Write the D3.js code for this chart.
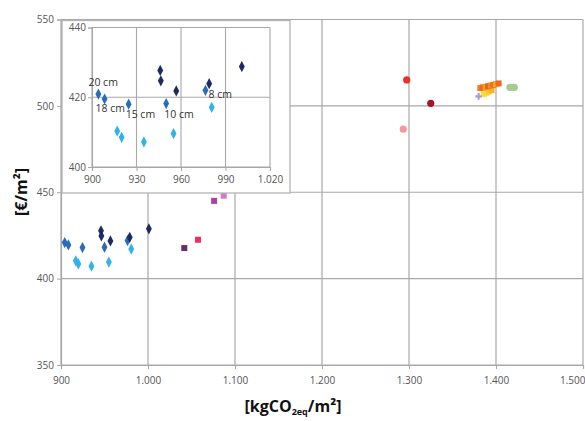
<!DOCTYPE html>
<html><head><meta charset="utf-8">
<script src="https://cdn.jsdelivr.net/npm/d3@7"></script>
<style>body{margin:0;background:#fff}svg{display:block}text{font-family:"Open Sans","Liberation Sans",sans-serif}</style>
</head><body><svg id="c" width="585" height="421"></svg>
<script>
// ---- data ----
const xTicks = [900,1000,1100,1200,1300,1400,1500];
const yTicks = [350,400,450,500,550];
const insetXTicks = [900,930,960,990,1020];
const insetYTicks = [400,420,440];
const seriesDark = [[946,427.7],[946.4,424.7],[956.8,421.8],[979,423.9],[1001,428.8]];
const seriesMid = [[904.3,420.9],[908.5,419.5],[924.7,418],[950,418.2],[976.5,422]];
const seriesLight = [[917,410.3],[920,408.5],[935,407.2],[955,409.6],[980.7,417.1]];
const midLabels = ["20 cm","18 cm","15 cm","10 cm","8 cm"];
const squaresMain = [[1041.7,417.7],[1057.5,422.5],[1076,445],[1087,448]];
const circlesMain = [[1297.4,515],[1325,501.5],[1293.4,486.5],[1416,510.7],[1421,510.7]];
const orangeSq = [[1382,510.3],[1385,510.7],[1388,511],[1391,511.4],[1394,511.8],[1397,512.2],[1400,512.6],[1403,513]];
const yellowSq = [[1386,506.8],[1389,507.6],[1392,508.4],[1395,509.2]];
const plusPts = [[1380,505.5]];

const fmtX = d => d>=1000 ? (Math.floor(d/1000)+"."+String(d%1000).padStart(3,"0")) : String(d);

const svg = d3.select("#c");
const grid = "#a8a8a8";
// ---- main chart ----
const x = d3.scaleLinear().domain([900,1500]).range([61,583]);
const y = d3.scaleLinear().domain([350,550]).range([365,19.5]);

const gGrid = svg.append("g");
gGrid.selectAll(".vx").data(xTicks).join("line")
  .attr("x1",d=>x(d)).attr("x2",d=>x(d)).attr("y1",y(350)).attr("y2",y(550))
  .attr("stroke",grid).attr("stroke-width",1.2);
gGrid.selectAll(".hy").data(yTicks).join("line")
  .attr("y1",d=>y(d)).attr("y2",d=>y(d)).attr("x1",x(900)).attr("x2",x(1500))
  .attr("stroke",grid).attr("stroke-width",1.2);

const xAxis = svg.append("g").attr("transform",`translate(0,${y(350)})`)
  .call(d3.axisBottom(x).tickValues(xTicks).tickFormat(fmtX).tickSize(4).tickPadding(8));
const yAxis = svg.append("g").attr("transform",`translate(${x(900)},0)`)
  .call(d3.axisLeft(y).tickValues(yTicks).tickSize(4).tickPadding(3));
[xAxis,yAxis].forEach(a=>{
  a.select(".domain").attr("stroke",grid).attr("stroke-width",1.2);
  a.selectAll(".tick line").attr("stroke",grid);
  a.selectAll(".tick text").attr("fill","#555").style("font-size","10px");
});
xAxis.selectAll(".tick text").filter(d=>d===1500).attr("text-anchor","end").attr("dx","2");

const cDark="#1c2a66", cMid="#2b6cb8", cLight="#32b2ea";
function diamonds(g, data, sx, sy, color, size){
  g.selectAll(null).data(data).join("path")
    .attr("d", d3.symbol(d3.symbolDiamond, size))
    .attr("transform", d=>`translate(${sx(d[0])},${sy(d[1])}) scale(1,1.1)`)
    .attr("fill", color);
}
const gm = svg.append("g");
diamonds(gm, seriesLight, x, y, cLight, 30);
diamonds(gm, seriesMid, x, y, cMid, 30);
diamonds(gm, seriesDark, x, y, cDark, 30);

const sqColors = ["#6e2a6e","#e8325c","#a8439e","#d27ac6"];
gm.selectAll(".sq").data(squaresMain).join("rect")
  .attr("x",d=>x(d[0])-3).attr("y",d=>y(d[1])-3).attr("width",6).attr("height",6)
  .attr("fill",(d,i)=>sqColors[i]);

const ocol = ["#f07b20","#ee6a1a","#f39a2a","#e9601c","#f08a24","#ef7020","#f5a52e","#ec6a1e"];
gm.selectAll(".yo").data(yellowSq).join("rect")
  .attr("x",d=>x(d[0])-3).attr("y",d=>y(d[1])-3).attr("width",6).attr("height",6)
  .attr("fill",(d,i)=>["#f6e23a","#f9d93a","#f8cc34","#f7b52e"][i]);
gm.selectAll(".or").data(orangeSq).join("rect")
  .attr("x",d=>x(d[0])-3).attr("y",d=>y(d[1])-3).attr("width",6).attr("height",6)
  .attr("fill",(d,i)=>ocol[i]);
gm.selectAll(".pl").data(plusPts).join("path")
  .attr("d", d3.symbol(d3.symbolCross, 24))
  .attr("transform", d=>`translate(${x(d[0])},${y(d[1])})`)
  .attr("fill","#a89ad8");
const cirCol = ["#e8302e","#a8142a","#f29a9a","#a5cc8e","#a5cc8e"];
gm.selectAll(".ci").data(circlesMain).join("circle")
  .attr("cx",d=>x(d[0])).attr("cy",d=>y(d[1])).attr("r",3.6)
  .attr("fill",(d,i)=>cirCol[i]);

// axis titles
svg.append("text").attr("x",293).attr("y",412).attr("text-anchor","middle")
  .style("font-size","16px").style("font-weight","bold").attr("fill","#111")
  .html('[kgCO<tspan dy="3" style="font-size:9px">2eq</tspan><tspan dy="-3">/m²]</tspan>');
svg.append("text").attr("transform","translate(27,192) rotate(-90)").attr("text-anchor","middle")
  .style("font-size","16px").style("font-weight","bold").attr("fill","#111").text("[€/m²]");

// ---- inset ----
const ix = d3.scaleLinear().domain([900,1020]).range([92,270]);
const iy = d3.scaleLinear().domain([400,440]).range([167,27.5]);
const gi = svg.append("g");
gi.append("rect").attr("x",62).attr("y",20.5).attr("width",228).attr("height",172.5)
  .attr("fill","#fff").attr("stroke","#b4b4b4").attr("stroke-width",1.3);
gi.selectAll(".ivx").data(insetXTicks).join("line")
  .attr("x1",d=>ix(d)).attr("x2",d=>ix(d)).attr("y1",iy(400)).attr("y2",iy(440))
  .attr("stroke",grid).attr("stroke-width",1.1);
gi.selectAll(".ihy").data(insetYTicks).join("line")
  .attr("y1",d=>iy(d)).attr("y2",d=>iy(d)).attr("x1",ix(900)).attr("x2",ix(1020))
  .attr("stroke",grid).attr("stroke-width",1.1);
const ixa = gi.append("g").attr("transform",`translate(0,${iy(400)})`)
  .call(d3.axisBottom(ix).tickValues(insetXTicks).tickFormat(fmtX).tickSize(4).tickPadding(5));
const iya = gi.append("g").attr("transform",`translate(${ix(900)},0)`)
  .call(d3.axisLeft(iy).tickValues(insetYTicks).tickSize(4).tickPadding(2));
[ixa,iya].forEach(a=>{
  a.select(".domain").attr("stroke",grid).attr("stroke-width",1.1);
  a.selectAll(".tick line").attr("stroke",grid);
  a.selectAll(".tick text").attr("fill","#555").style("font-size","10px");
});
diamonds(gi, seriesLight, ix, iy, cLight, 30);
diamonds(gi, seriesMid, ix, iy, cMid, 30);
diamonds(gi, seriesDark, ix, iy, cDark, 30);
const lblOff = [[-10,-8],[-9,13],[-3,14],[-2,14],[3,8]];
gi.selectAll(".lb").data(seriesMid).join("text")
  .attr("x",(d,i)=>ix(d[0])+lblOff[i][0]).attr("y",(d,i)=>iy(d[1])+lblOff[i][1])
  .style("font-size","10.5px").attr("fill","#333").text((d,i)=>midLabels[i]);
</script></body></html>
